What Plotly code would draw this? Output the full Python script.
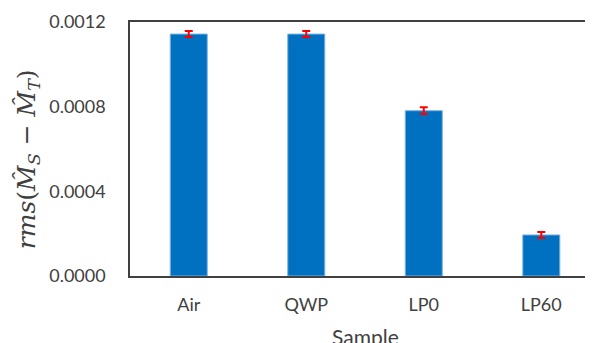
import plotly.graph_objects as go

categories = ["Air", "QWP", "LP0", "LP60"]
values = [0.001143, 0.001143, 0.000781, 0.000194]
errors = [0.000014, 0.000014, 0.000016, 0.000014]
y_ticks = [0.0, 0.0004, 0.0008, 0.0012]
y_tick_labels = ["0.0000", "0.0004", "0.0008", "0.0012"]

# page has an 8px body margin; figure sized to fit the window
W, H = 585, 335
L, R, T, B = 122, 0, 14, 67
plot_h = H - T - B

fig = go.Figure()
fig.add_trace(go.Bar(
    x=list(range(len(categories))), y=values,
    marker=dict(color="#0070C0", line=dict(color="#7FB2E0", width=1)),
    error_y=dict(type="data", array=errors, visible=True, color="#FF0000",
                 thickness=2, width=4),
))

font_family = "Lato, 'Open Sans', sans-serif"
fig.update_layout(
    width=W, height=H,
    margin=dict(l=L, r=R, t=T, b=B),
    plot_bgcolor="white", paper_bgcolor="white",
    bargap=0.685, showlegend=False,
    font=dict(family=font_family, size=18, color="#404040"),
    xaxis=dict(
        range=[-0.5, 3.44], tickmode="array",
        tickvals=list(range(len(categories))), ticktext=categories,
        showline=True, linecolor="#404040", linewidth=1.5, mirror=True,
        showgrid=False, zeroline=False, ticks="", ticklabelstandoff=12,
        tickfont=dict(size=18, color="#404040"),
    ),
    yaxis=dict(
        range=[0, 0.0012], tickmode="array", tickvals=y_ticks, ticktext=y_tick_labels,
        showline=True, linecolor="#404040", linewidth=1.5,
        showgrid=False, zeroline=False, ticks="", ticklabelstandoff=19,
        tickfont=dict(size=18, color="#404040"),
    ),
)

# axis titles as annotations
fig.add_annotation(
    x=1.5, xref="x", y=-60 / plot_h, yref="paper", yanchor="middle",
    text="Sample", showarrow=False,
    font=dict(family=font_family, size=21, color="#404040"),
)
fig.add_annotation(
    x=(20 - L) / (W - L - R), xref="paper", xanchor="center",
    y=0.46, yref="paper", yanchor="middle",
    text="<i>rms</i>(<i>M̂</i><sub><i>S</i></sub> − <i>M̂</i><sub><i>T</i></sub>)",
    textangle=-90, showarrow=False,
    font=dict(family="'DejaVu Serif', serif", size=25, color="#404040"),
)

fig.write_html("out.html")
